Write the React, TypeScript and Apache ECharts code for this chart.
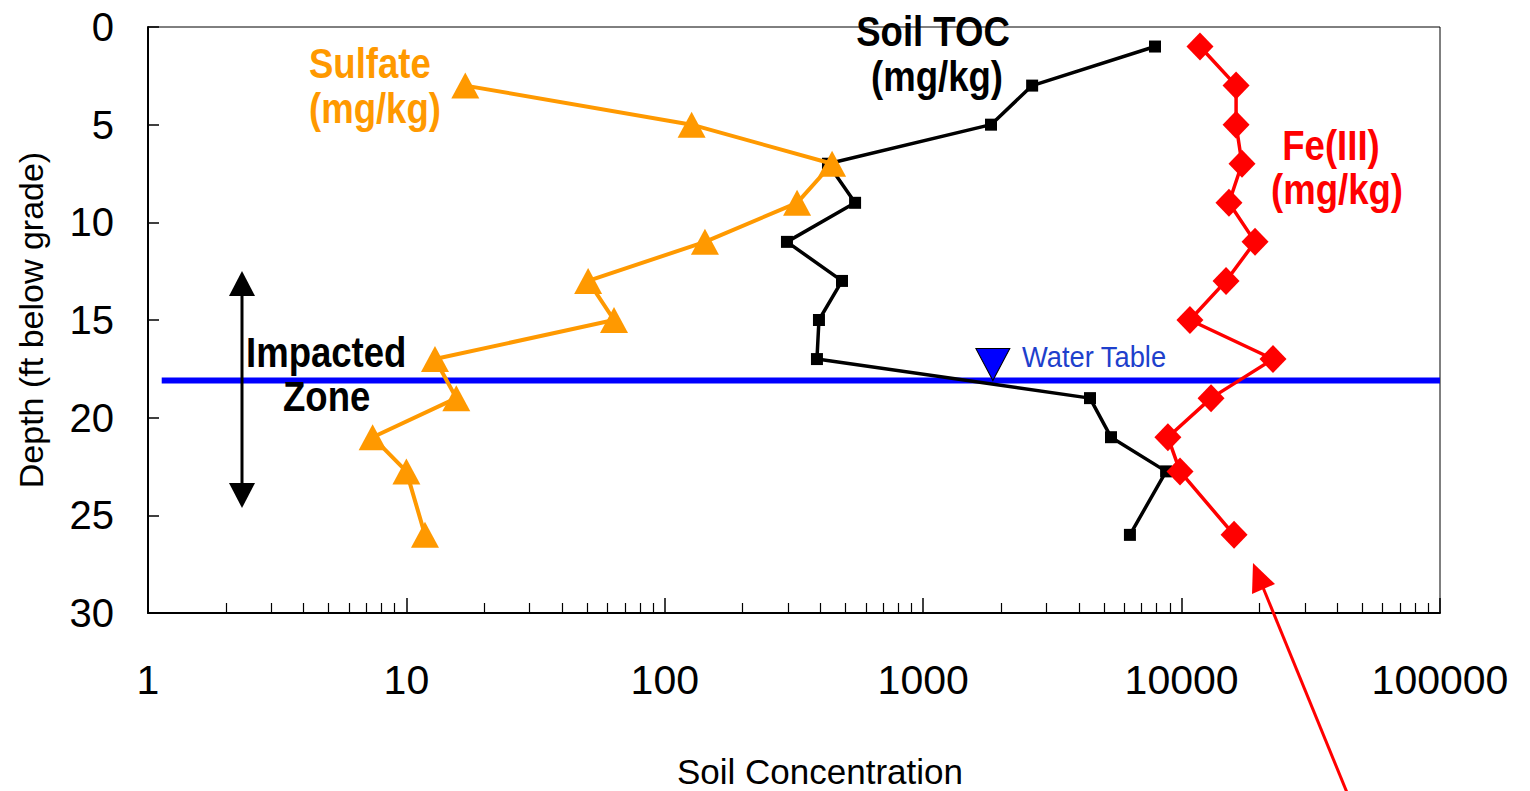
import React, { useEffect, useRef } from "react";
import * as echarts from "echarts";

const FONT = "'Liberation Sans', Arial, sans-serif";

// Sample depths (ft below grade)
const depthSulfate = [3, 5, 7, 9, 11, 13, 15, 17, 19, 21, 22.75, 26];
const depthToc = [1, 3, 5, 7, 9, 11, 13, 15, 17, 19, 21, 22.75, 26];
const depthFe = [1, 3, 5, 7, 9, 11, 13, 15, 17, 19, 21, 22.75, 26];

// Soil concentrations (mg/kg)
const sulfate = [16.9, 127, 444, 325, 143, 50.5, 63.6, 12.9, 15.6, 7.4, 10, 11.8];
const soilToc = [7890, 2640, 1830, 428, 545, 297, 485, 395, 388, 4420, 5330, 8710, 6310];
const fe3 = [11780, 16250, 16250, 17130, 15250, 19240, 14860, 10770, 22580, 13000, 8850, 9860, 15960];

// Water table
const waterTableDepth = 18.1;
const waterTableSpan = [1.13, 100000];
const waterTableMarkerX = 1860;

// Axis ticks
const xMajorTicks = [1, 10, 100, 1000, 10000, 100000];
const xMinorTicks: number[] = [];
for (let d = 0; d < xMajorTicks.length - 1; d++) {
  for (let m = 2; m <= 9; m++) xMinorTicks.push(m * xMajorTicks[d]);
}
const depthTicks = [0, 5, 10, 15, 20, 25, 30];

const pairs = (xs: number[], ys: number[]) => xs.map((x, i) => [x, ys[i]]);

const GRID = { left: 148, right: 90, top: 27, bottom: 178, outerBoundsMode: "none" as any };

export default function App() {
  const ref = useRef<HTMLDivElement>(null);

  useEffect(() => {
    if (!ref.current) return;
    const chart = echarts.init(ref.current, undefined, { renderer: "svg" });

    const label = (
      text: string,
      x: number,
      y: number,
      fill: string,
      align = "center",
      size = 43,
      bold = true,
      sx = 0.85
    ) => ({
      type: "text",
      x,
      y,
      scaleX: sx,
      z: 100,
      style: {
        text,
        fill,
        fontSize: size,
        fontWeight: bold ? "bold" : "normal",
        fontFamily: FONT,
        align,
        verticalAlign: "middle",
      },
    });

    chart.setOption({
      animation: false,
      backgroundColor: "#fff",
      grid: [
        { ...GRID, show: true, borderColor: "#000", borderWidth: 1 },
        { ...GRID, show: false },
      ],
      xAxis: [
        {
          type: "log",
          logBase: 10,
          gridIndex: 0,
          min: xMajorTicks[0],
          max: xMajorTicks[xMajorTicks.length - 1],
          position: "bottom",
          axisLine: { show: true, onZero: false, lineStyle: { color: "#000", width: 2 } },
          axisTick: { show: true, inside: true, length: 15, customValues: xMajorTicks, lineStyle: { color: "#000", width: 1.5 } },
          axisLabel: {
            show: true,
            customValues: xMajorTicks,
            margin: 46,
            fontSize: 41,
            fontFamily: FONT,
            color: "#000",
            formatter: (v: number) => String(Math.round(v)),
          },
          splitLine: { show: false },
          minorTick: { show: false },
          name: "Soil Concentration",
          nameLocation: "middle",
          nameGap: 141,
          nameTextStyle: { fontSize: 35, fontFamily: FONT, color: "#000", padding: [0, 0, 0, 52] },
        },
        {
          type: "log",
          logBase: 10,
          gridIndex: 1,
          min: xMajorTicks[0],
          max: xMajorTicks[xMajorTicks.length - 1],
          position: "bottom",
          axisLine: { show: false, onZero: false },
          axisTick: { show: true, inside: true, length: 10, customValues: xMinorTicks, lineStyle: { color: "#000", width: 1.2 } },
          axisLabel: { show: false },
          splitLine: { show: false },
        },
      ],
      yAxis: [
        {
          type: "value",
          gridIndex: 0,
          inverse: true,
          min: depthTicks[0],
          max: depthTicks[depthTicks.length - 1],
          interval: 5,
          axisLine: { show: true, onZero: false, lineStyle: { color: "#000", width: 2 } },
          axisTick: { show: true, inside: true, length: 11, lineStyle: { color: "#000", width: 1.5 } },
          axisLabel: { margin: 34, fontSize: 40, fontFamily: FONT, color: "#000" },
          splitLine: { show: false },
          name: "Depth (ft below grade)",
          nameLocation: "middle",
          nameGap: 100,
          nameRotate: 90,
          nameTextStyle: { fontSize: 34, fontFamily: FONT, color: "#000" },
        },
        {
          type: "value",
          gridIndex: 1,
          inverse: true,
          min: depthTicks[0],
          max: depthTicks[depthTicks.length - 1],
          axisLine: { show: false, onZero: false },
          axisTick: { show: false },
          axisLabel: { show: false },
          splitLine: { show: false },
        },
      ],
      series: [
        {
          name: "Water Table",
          type: "line",
          data: waterTableSpan.map((x) => [x, waterTableDepth]),
          symbol: "none",
          lineStyle: { color: "#0000FF", width: 6 },
          z: 1,
        },
        {
          name: "Soil TOC",
          type: "line",
          data: pairs(soilToc, depthToc),
          symbol: "rect",
          symbolSize: 12,
          itemStyle: { color: "#000" },
          lineStyle: { color: "#000", width: 3.5 },
          z: 3,
        },
        {
          name: "Sulfate",
          type: "line",
          data: pairs(sulfate, depthSulfate),
          symbol: "triangle",
          symbolSize: [28, 26],
          itemStyle: { color: "#FF9900" },
          lineStyle: { color: "#FF9900", width: 4 },
          z: 4,
        },
        {
          name: "Fe(III)",
          type: "line",
          data: pairs(fe3, depthFe),
          symbol: "diamond",
          symbolSize: [27, 28],
          itemStyle: { color: "#FF0000" },
          lineStyle: { color: "#FF0000", width: 3.5 },
          z: 5,
        },
        {
          name: "Water Table marker",
          type: "scatter",
          data: [[waterTableMarkerX, waterTableDepth]],
          symbol: "triangle",
          symbolRotate: 180,
          symbolSize: [34, 32],
          symbolOffset: [0, -16],
          itemStyle: { color: "#0000FF", borderColor: "#000", borderWidth: 1, opacity: 1 },
          z: 6,
        },
      ],
      graphic: [
        label("Sulfate", 309, 63, "#FF9900", "left"),
        label("(mg/kg)", 309, 108, "#FF9900", "left"),
        label("Soil TOC", 933, 31, "#000"),
        label("(mg/kg)", 937, 76, "#000"),
        label("Fe(III)", 1331, 145, "#FF0000"),
        label("(mg/kg)", 1337, 189, "#FF0000"),
        label("Impacted", 246, 352, "#000", "left"),
        label("Zone", 283, 396, "#000", "left"),
        label("Water Table", 1022, 357, "#1E40CC", "left", 30, false, 0.91),
        // Impacted zone double arrow
        { type: "line", z: 90, shape: { x1: 242, y1: 292, x2: 242, y2: 488 }, style: { stroke: "#000", lineWidth: 3 } },
        { type: "polygon", z: 90, shape: { points: [[242, 271], [229, 296], [255, 296]] }, style: { fill: "#000" } },
        { type: "polygon", z: 90, shape: { points: [[242, 508], [229, 483], [255, 483]] }, style: { fill: "#000" } },
        // Red pointer arrow
        { type: "line", z: 90, shape: { x1: 1348, y1: 795, x2: 1262, y2: 585 }, style: { stroke: "#FF0000", lineWidth: 3 } },
        { type: "polygon", z: 90, shape: { points: [[1253, 563], [1275, 584], [1252, 594]] }, style: { fill: "#FF0000" } },
      ],
    });

    return () => chart.dispose();
  }, []);

  return (
    <div
      ref={ref}
      style={{ position: "fixed", left: 0, top: 0, width: 1530, height: 791, background: "#fff" }}
    />
  );
}
